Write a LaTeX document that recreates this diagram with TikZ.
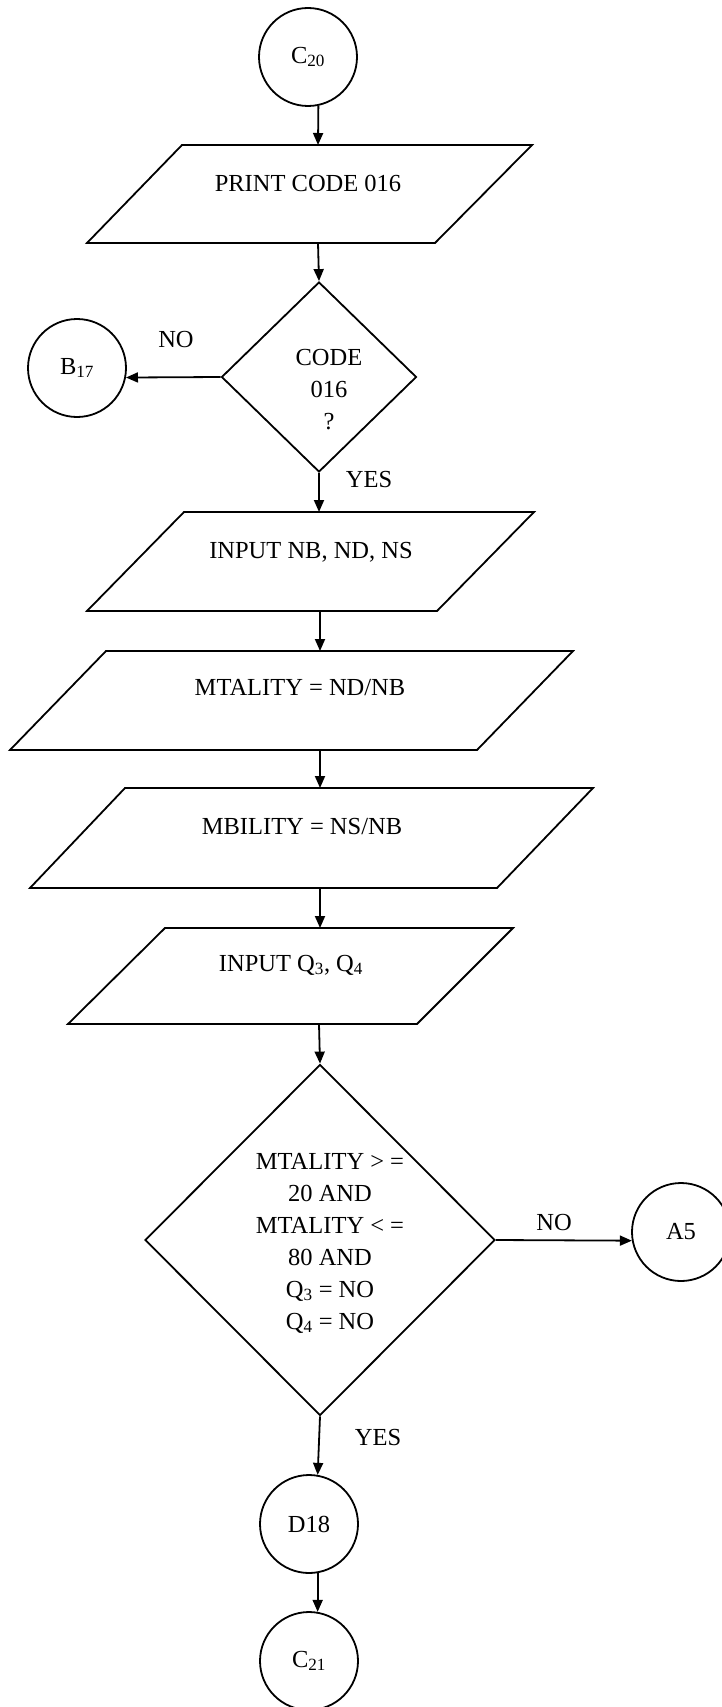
\documentclass[tikz,border=0pt]{standalone}
\usepackage{fontspec}
\setmainfont{Liberation Serif}
\usetikzlibrary{arrows.meta,shapes.geometric}
\begin{document}
\begin{tikzpicture}[x=1pt,y=-1pt,
  line width=1.8pt,
  conn/.style={circle,draw,minimum size=98pt,inner sep=0pt,font=\fontsize{24.5}{32}\selectfont},
  lbl/.style={font=\fontsize{24.5}{32}\selectfont,inner sep=0pt},
  arr/.style={-{Triangle[length=12pt,width=10pt]}},
  dec/.style={diamond,draw,inner sep=0pt},
  para/.style={draw,line join=miter}
]
\useasboundingbox (0,0) rectangle (722,1707);

% start connector
\node[conn] (c20) at (308,57) {C\textsubscript{20}};

% PRINT CODE 016
\draw[para] (182,145) -- (532,145) -- (435,243) -- (87,243) -- cycle;
\coordinate (p1t) at (318,145);
\coordinate (p1b) at (318,243);
\node[lbl] (p1) at (308,183) {PRINT CODE 016};

% decision 1
\node[dec,minimum width=195pt,minimum height=190pt] (d1) at (319,377) {};
\node[lbl,align=center] (d1t) at (329,390) {CODE\\016\\?};
\node[lbl] (no1) at (176,340) {NO};
\node[conn] (b17) at (77,368) {B\textsubscript{17}};
\node[lbl,anchor=west] (yes1) at (345,480) {YES};

% INPUT NB, ND, NS
\draw[para] (184,512) -- (534,512) -- (437,611) -- (87,611) -- cycle;
\coordinate (p2t) at (319,512);
\coordinate (p2b) at (320,611);
\node[lbl] (p2) at (311,552) {INPUT NB, ND, NS};

% MTALITY
\draw[para] (106,651) -- (573,651) -- (477,750) -- (10,750) -- cycle;
\coordinate (p3t) at (320,651);
\coordinate (p3b) at (320,750);
\node[lbl] (p3) at (300,688) {MTALITY = ND/NB};

% MBILITY
\draw[para] (125,788) -- (593,788) -- (497,888) -- (30,888) -- cycle;
\coordinate (p4t) at (320,788);
\coordinate (p4b) at (320,888);
\node[lbl] (p4) at (302,827) {MBILITY = NS/NB};

% INPUT Q3, Q4
\draw[para] (165,928) -- (513,928) -- (417,1024) -- (68,1024) -- cycle;
\coordinate (p5t) at (320,928);
\coordinate (p5b) at (319,1024);
\node[lbl] (p5) at (291,965) {INPUT Q\textsubscript{3}, Q\textsubscript{4}};

% decision 2
\node[dec,minimum width=350pt,minimum height=351pt] (d2) at (320,1240) {};
\node[lbl,align=center] (d2t) at (330,1243) {MTALITY > =\\20 AND\\MTALITY < =\\80 AND\\Q\textsubscript{3} = NO\\Q\textsubscript{4} = NO};
\node[lbl] (no2) at (554,1222) {NO};
\node[conn] (a5) at (681,1232) {A5};
\node[lbl,anchor=west] (yes2) at (354,1437) {YES};

\node[conn] (d18) at (309,1524) {D18};
\node[conn] (c21) at (309,1661) {C\textsubscript{21}};

% connectors
\draw[arr] (c20.-78) -- (p1t);
\draw[arr] (p1b) -- (d1.north);
\draw[arr] (d1.west) -- (b17.-11);
\draw[arr] (d1.south) -- (p2t);
\draw[arr] (p2b) -- (p3t);
\draw[arr] (p3b) -- (p4t);
\draw[arr] (p4b) -- (p5t);
\draw[arr] (p5b) -- (d2.north);
\draw[arr] (d2.east) -- (a5.190);
\draw[arr] (d2.south) -- (d18.80);
\draw[arr] (d18.-80) -- (c21.80);
\end{tikzpicture}
\end{document}
